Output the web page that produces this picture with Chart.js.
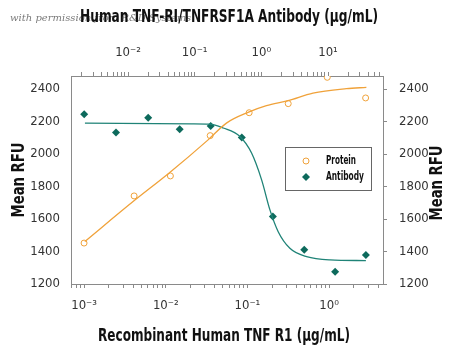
<!DOCTYPE html>
<html>
<head>
<meta charset="utf-8">
<script src="https://cdn.jsdelivr.net/npm/chart.js@4/dist/chart.umd.min.js"></script>
<style>
  html, body { margin: 0; padding: 0; background: #fff; }
  #wrap { width: 450px; height: 351px; }
</style>
</head>
<body>
<div id="wrap"><canvas id="chart"></canvas></div>
<script>
// measured points
const proteinX = [0.001, 0.0041, 0.0114, 0.035, 0.105, 0.316, 0.95, 2.8];
const proteinY = [1452, 1742, 1865, 2113, 2254, 2310, 2472, 2345];
const antibodyX = [0.0022, 0.0066, 0.0201, 0.0596, 0.174, 0.51, 1.49, 4.4, 12.8, 37];
const antibodyY = [2245, 2132, 2223, 2153, 2173, 2101, 1615, 1411, 1276, 1379];

// fitted curves
const proteinFitX = [0.00102, 0.00398, 0.0112, 0.033, 0.0553, 0.1016, 0.171, 0.314, 0.635, 1.63, 2.86];
const proteinFitY = [1461, 1707, 1886, 2087, 2190, 2256, 2297, 2328, 2375, 2402, 2410];
const antibodyFitX = [0.00226, 0.0902, 0.1694, 0.268, 0.478, 0.714, 1.01, 1.346, 1.79, 2.68, 4.78, 10.7, 37];
const antibodyFitY = [2190, 2186, 2184, 2160, 2108, 2006, 1841, 1656, 1522, 1420, 1368, 1348, 1344];

const yTicks = [1200, 1400, 1600, 1800, 2000, 2200, 2400];

const topTitle = "Human TNF-RI/TNFRSF1A Antibody (\u00B5g/mL)";
const bottomTitle = "Recombinant Human TNF R1 (\u00B5g/mL)";
const yTitle = "Mean RFU";

const FONT = "'Liberation Sans Narrow', 'DejaVu Sans Condensed', 'Roboto', sans-serif";
const ORANGE = "#F0A23A";
const TEAL = "#1F8377";
const TEAL_DARK = "#0D6A5C";
const AXIS = "#8a8a8a";

const toXY = (xs, ys) => xs.map((x, i) => ({ x: x, y: ys[i] }));

const SUP = { "-": "\u207B", "0": "\u2070", "1": "\u00B9", "2": "\u00B2", "3": "\u00B3" };
function powLabel(v) {
    const e = Math.round(Math.log10(v));
    if (Math.abs(v / Math.pow(10, e) - 1) > 1e-6) return "";
    return "10" + String(e).split("").map(c => SUP[c] || c).join("");
}

function logTicks(scale) {
    const t = [];
    const lo = Math.floor(Math.log10(scale.min));
    const hi = Math.ceil(Math.log10(scale.max));
    for (let e = lo; e <= hi; e++) {
        for (let m = 1; m <= 9; m++) {
            const v = m * Math.pow(10, e);
            if (v >= scale.min && v <= scale.max) t.push({ value: v, major: m === 1 });
        }
    }
    scale.ticks = t;
}

function fixedTicks(scale) {
    scale.ticks = yTicks.map(v => ({ value: v }));
}

// watermark behind the top title
const watermark = {
    id: "watermark",
    beforeDraw(chart) {
        const ctx = chart.ctx;
        ctx.save();
        ctx.fillStyle = "#7a7a7a";
        ctx.font = "italic 10px 'DejaVu Serif', serif";
        ctx.textBaseline = "middle";
        ctx.fillText("with permission from R&D Systems", 10, 18);
        ctx.restore();
    }
};

// condensed axis titles (squeezed to the widths of the original)
const titles = {
    id: "titles",
    afterDraw(chart) {
        const ctx = chart.ctx;
        const a = chart.chartArea;
        const midY = (a.top + a.bottom) / 2;
        ctx.save();
        ctx.fillStyle = "#111";
        ctx.font = "bold 18px " + FONT;
        ctx.textAlign = "center";
        ctx.textBaseline = "middle";
        ctx.fillText(topTitle, 229, 17, 298);
        ctx.fillText(bottomTitle, 224, 336, 252);
        ctx.save();
        ctx.translate(19, midY);
        ctx.rotate(-Math.PI / 2);
        ctx.fillText(yTitle, 0, 0, 75);
        ctx.restore();
        ctx.save();
        ctx.translate(437, midY + 3);
        ctx.rotate(-Math.PI / 2);
        ctx.fillText(yTitle, 0, 0, 75);
        ctx.restore();
        ctx.restore();
    }
};

// legend box inside the plot
const boxLegend = {
    id: "boxLegend",
    afterDatasetsDraw(chart) {
        const ctx = chart.ctx;
        const a = chart.chartArea;
        const x = a.left + 214, y = a.top + 71, w = 86, h = 43;
        ctx.save();
        ctx.fillStyle = "#fff";
        ctx.fillRect(x, y, w, h);
        ctx.strokeStyle = "#666";
        ctx.lineWidth = 1;
        ctx.strokeRect(x + 0.5, y + 0.5, w, h);
        ctx.beginPath();
        ctx.arc(x + 21, y + 14, 3, 0, Math.PI * 2);
        ctx.strokeStyle = ORANGE;
        ctx.stroke();
        ctx.beginPath();
        ctx.moveTo(x + 21, y + 26);
        ctx.lineTo(x + 25, y + 30);
        ctx.lineTo(x + 21, y + 34);
        ctx.lineTo(x + 17, y + 30);
        ctx.closePath();
        ctx.fillStyle = TEAL_DARK;
        ctx.fill();
        ctx.fillStyle = "#111";
        ctx.font = "bold 12px " + FONT;
        ctx.textBaseline = "middle";
        ctx.fillText("Protein", x + 41, y + 14, 30);
        ctx.fillText("Antibody", x + 41, y + 30, 38);
        ctx.restore();
    }
};

const xCommon = {
    type: "logarithmic",
    border: { color: AXIS, width: 1 },
    grid: { drawOnChartArea: false, color: AXIS, tickLength: 4 },
    afterBuildTicks: logTicks,
    ticks: {
        autoSkip: false,
        maxRotation: 0,
        color: "#333",
        font: { family: FONT, size: 13 },
        callback: v => powLabel(v)
    }
};

const yTickOpts = {
    color: "#333",
    font: { family: FONT, size: 13 },
    callback: v => String(v)
};

const config = {
    type: "scatter",
    data: {
        datasets: [
            {
                label: "Protein fit",
                data: toXY(proteinFitX, proteinFitY),
                xAxisID: "x", yAxisID: "y",
                showLine: true,
                borderColor: ORANGE,
                borderWidth: 1.3,
                pointRadius: 0,
                cubicInterpolationMode: "monotone"
            },
            {
                label: "Antibody fit",
                data: toXY(antibodyFitX, antibodyFitY),
                xAxisID: "x2", yAxisID: "y",
                showLine: true,
                borderColor: TEAL,
                borderWidth: 1.3,
                pointRadius: 0,
                cubicInterpolationMode: "monotone"
            },
            {
                label: "Protein",
                data: toXY(proteinX, proteinY),
                xAxisID: "x", yAxisID: "y",
                pointStyle: "circle",
                pointRadius: 3,
                borderWidth: 1,
                borderColor: ORANGE,
                backgroundColor: "#fff"
            },
            {
                label: "Antibody",
                data: toXY(antibodyX, antibodyY),
                xAxisID: "x2", yAxisID: "y",
                pointStyle: "rectRot",
                pointRadius: 4,
                borderWidth: 0,
                borderColor: TEAL_DARK,
                backgroundColor: TEAL_DARK
            }
        ]
    },
    options: {
        responsive: true,
        maintainAspectRatio: false,
        animation: false,
        layout: { padding: 0 },
        plugins: {
            legend: { display: false },
            tooltip: { enabled: false }
        },
        scales: {
            x: Object.assign({}, xCommon, {
                position: "bottom",
                min: Math.pow(10, -3.16),
                max: Math.pow(10, 0.66),
                afterFit: s => { s.height = 67; },
                ticks: Object.assign({}, xCommon.ticks, { padding: 10 })
            }),
            x2: Object.assign({}, xCommon, {
                position: "top",
                min: Math.pow(10, -2.855),
                max: Math.pow(10, 1.825),
                afterFit: s => { s.height = 76; },
                ticks: Object.assign({}, xCommon.ticks, { padding: 12 })
            }),
            y: {
                position: "left",
                min: 1200,
                max: 2480,
                afterBuildTicks: fixedTicks,
                afterFit: s => { s.width = 71; },
                border: { color: AXIS, width: 1 },
                grid: { drawOnChartArea: false, drawTicks: false },
                ticks: Object.assign({}, yTickOpts, { padding: 11 })
            },
            y2: {
                position: "right",
                min: 1200,
                max: 2480,
                afterBuildTicks: fixedTicks,
                afterFit: s => { s.width = 67; },
                border: { color: AXIS, width: 1 },
                grid: { drawOnChartArea: false, color: AXIS, tickLength: 4 },
                ticks: Object.assign({}, yTickOpts, { padding: 12 })
            }
        }
    },
    plugins: [watermark, boxLegend, titles]
};

new Chart(document.getElementById("chart"), config);
</script>
</body>
</html>
